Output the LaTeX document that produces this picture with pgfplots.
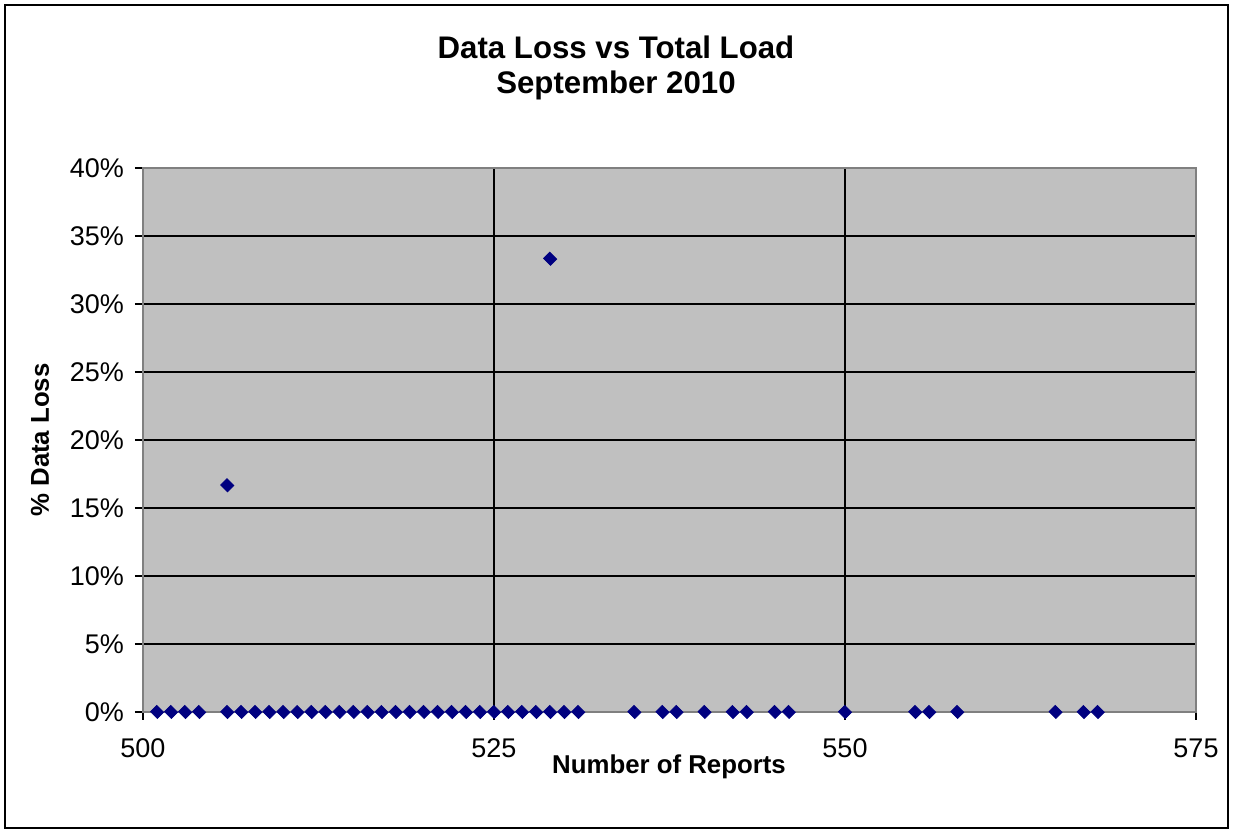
\documentclass[border=0pt]{standalone}
\usepackage{pgfplots}
\pgfplotsset{compat=1.18}
\usepackage{fontspec}
\setmainfont{Liberation Sans}
\definecolor{navy}{HTML}{000080}
\definecolor{plotgray}{HTML}{C0C0C0}
\begin{document}
\begin{tikzpicture}
\path[use as bounding box] (0,0) rectangle (616.5pt,416.5pt);
\draw[black, line width=0.6pt] (2.5pt,2.5pt) rectangle (614pt,414pt);
\node[font=\fontsize{15.6}{17.5}\selectfont\bfseries, align=center] at (308pt,382.5pt) {Data Loss vs Total Load\\September 2010};
\node[font=\fontsize{12.9}{15}\selectfont\bfseries, rotate=90] at (20pt,196.5pt) {\% Data Loss};
\node[font=\fontsize{12.9}{15}\selectfont\bfseries] at (334.5pt,33pt) {Number of Reports};
\begin{axis}[
  at={(71.5pt,60.5pt)}, anchor=south west,
  scale only axis, width=526.5pt, height=272pt,
  xmin=500, xmax=575, ymin=0, ymax=40,
  xtick={500,525,550,575}, ytick={0,5,...,40},
  yticklabel={\pgfmathprintnumber{\tick}\%},
  /pgf/number format/assume math mode=true,
  tick label style={font=\fontsize{13.5}{15}\selectfont},
  xticklabel style={yshift=-6pt},
  yticklabel style={xshift=-2pt},
  tick align=outside, major tick length=4pt,
  tick style={black, line width=0.6pt},
  xtick pos=bottom, ytick pos=left,
  grid=major, major grid style={black, line width=0.6pt},
  axis background/.style={fill=plotgray},
  axis line style={gray, line width=0.6pt},
  clip=false,
]
\addplot[only marks, mark=square*, mark size=2.2pt, mark options={rotate=45, yscale=1.1}, color=navy] coordinates {
(501,0)(502,0)(503,0)(504,0)(506,0)(507,0)(508,0)(509,0)(510,0)(511,0)(512,0)
(513,0)(514,0)(515,0)(516,0)(517,0)(518,0)(519,0)(520,0)(521,0)(522,0)(523,0)
(524,0)(525,0)(526,0)(527,0)(528,0)(529,0)(530,0)(531,0)(535,0)(537,0)(538,0)
(540,0)(542,0)(543,0)(545,0)(546,0)(550,0)(555,0)(556,0)(558,0)(565,0)(567,0)(568,0)
(506,16.67)(529,33.33)
};
\end{axis}
\end{tikzpicture}
\end{document}
